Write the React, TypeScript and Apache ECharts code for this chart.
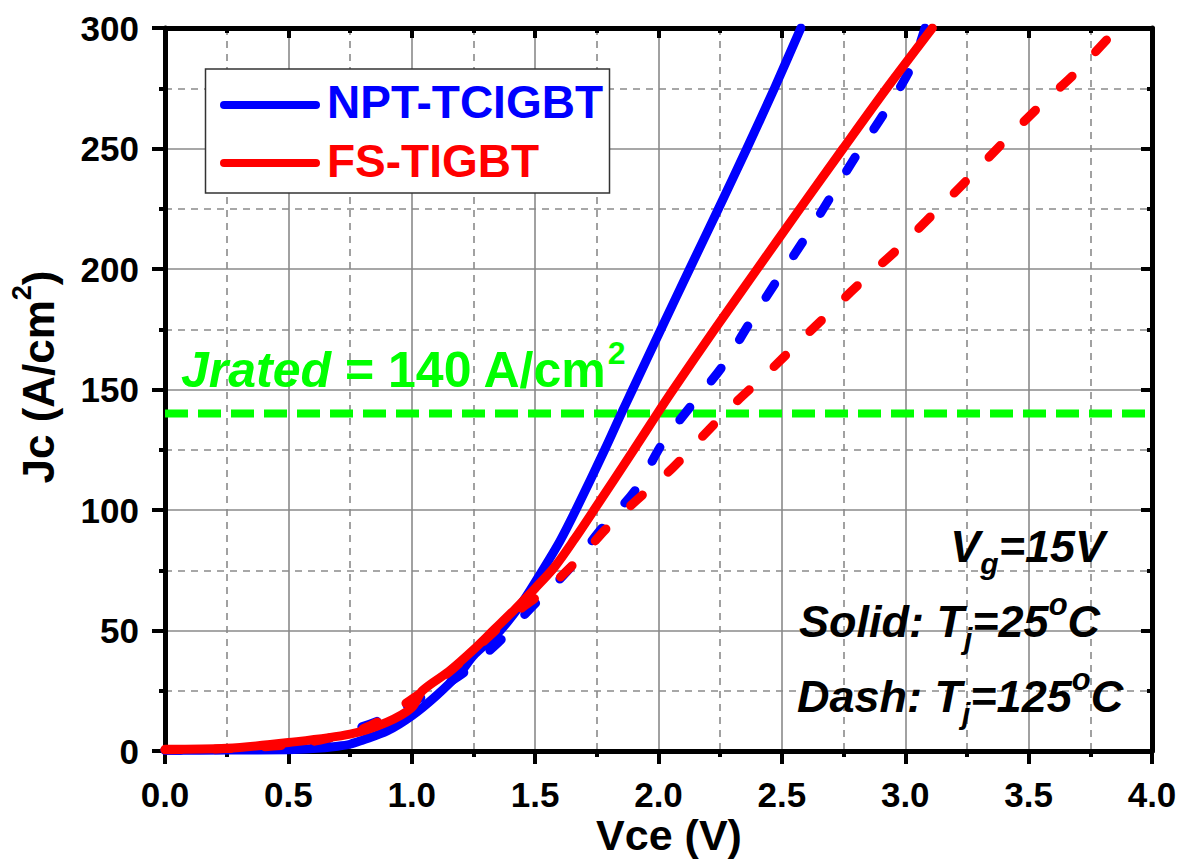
import React, { useEffect, useRef } from "react";
import * as echarts from "echarts";

// ---- data ----
const vceMin = 0;
const vceMax = 4;
const vceStep = 0.5;
const jcMin = 0;
const jcMax = 300;
const jcStep = 50;
const jRated = 140;

// NPT-TCIGBT, Tj = 25 °C (solid blue)
const npt25V = [0, 0.25, 0.5, 0.6, 0.7, 0.75, 0.8, 0.9, 1.0, 1.1, 1.2, 1.25, 1.35, 1.45, 1.53, 1.6, 1.665, 1.782, 1.849, 1.895, 2.01, 2.126, 2.243, 2.358, 2.47, 2.577];
const npt25J = [0.3, 0.4, 0.5, 1, 2, 2.8, 4.5, 8.3, 14.6, 23, 33, 39.6, 49, 62, 75, 87, 100, 125, 140, 150, 175, 200, 225, 250, 275, 300];

// FS-TIGBT, Tj = 25 °C (solid red)
const fs25V = [0, 0.25, 0.5, 0.75, 0.9, 1.0, 1.043, 1.15, 1.25, 1.33, 1.42, 1.5, 1.58, 1.66, 1.745, 1.9, 1.995, 2.06, 2.228, 2.4, 2.573, 2.748, 2.925, 3.11];
const fs25J = [0.7, 1.1, 3.5, 7, 12, 18, 25, 33, 42, 50, 59, 67.5, 76.5, 88, 101, 125, 140, 150, 175, 200, 225, 250, 275, 300];

// NPT-TCIGBT, Tj = 125 °C (dashed blue)
const npt125V = [0, 0.25, 0.5, 0.6, 0.69, 0.88, 1.0, 1.19, 1.34, 1.489, 1.638, 1.773, 1.908, 2.016, 2.13, 2.262, 2.37, 2.472, 2.589, 2.698, 2.807, 2.923, 3.025, 3.08];
const npt125J = [0.3, 0.6, 1.5, 3, 6.25, 13.2, 20, 31, 44, 60, 75.5, 92.7, 108.5, 127.7, 143, 160, 177.7, 194, 212, 230, 248, 266, 284, 300];

// FS-TIGBT, Tj = 125 °C (dashed red)
const fs125V = [0, 0.25, 0.5, 0.65, 0.83, 0.99, 1.138, 1.27, 1.408, 1.557, 1.69, 1.786, 1.915, 2.057, 2.178, 2.3125, 2.443, 2.581, 2.72, 2.836, 2.967, 3.11, 3.257, 3.4, 3.548, 3.693, 3.86];
const fs125J = [0.5, 1.0, 2.5, 5, 10.4, 20.8, 31.6, 43.5, 56.3, 68, 81, 92, 104.4, 117.4, 130.5, 144.6, 157, 170.8, 184.6, 196, 208, 222.5, 237.6, 252.8, 267.9, 281.7, 300];

const legendNames = ["NPT-TCIGBT", "FS-TIGBT"];

const pairs = (xs: number[], ys: number[]) => xs.map((x, i) => [x, ys[i]]);

const FONT = '"Liberation Sans", Arial, Helvetica, sans-serif';
const BLUE = "#0000ff";
const RED = "#ff0000";
const GREEN = "#00ff00";
const GRID_GREY = "#8a8a8a";
const LW = 9;

export default function App() {
  const ref = useRef<HTMLDivElement>(null);

  useEffect(() => {
    if (!ref.current) return;
    const chart = echarts.init(ref.current, null, { renderer: "svg" });

    const axisCommon = {
      type: "value" as const,
      axisLine: { show: true, onZero: false, lineStyle: { color: "#000", width: 5 } },
    };

    const boldItalic = { fontWeight: "bold", fontStyle: "italic", fontFamily: FONT };

    const option: any = {
      animation: false,
      backgroundColor: "#fff",
      textStyle: { fontFamily: FONT },
      grid: { left: 165, top: 28, right: 29, bottom: 112, containLabel: false },
      xAxis: [
        {
          ...axisCommon,
          position: "bottom",
          min: vceMin,
          max: vceMax,
          interval: vceStep,
          axisTick: { show: true, inside: false, length: 13, lineStyle: { color: "#000", width: 4 } },
          minorTick: { show: true, splitNumber: 2, length: 6, lineStyle: { color: "#000", width: 4 } },
          axisLabel: {
            show: true,
            margin: 26,
            fontSize: 35,
            fontWeight: "bold",
            color: "#000",
            fontFamily: FONT,
            formatter: (v: number) => v.toFixed(1),
          },
          splitLine: { show: true, lineStyle: { color: GRID_GREY, width: 1.6, type: "solid" } },
          minorSplitLine: { show: true, lineStyle: { color: GRID_GREY, width: 1.6, type: [7, 6] } },
        },
        {
          ...axisCommon,
          position: "top",
          min: vceMin,
          max: vceMax,
          interval: vceStep,
          axisTick: { show: true, inside: true, length: 10, lineStyle: { color: "#000", width: 4 } },
          minorTick: { show: true, splitNumber: 2, length: 5, lineStyle: { color: "#000", width: 4 } },
          axisLabel: { show: false },
          splitLine: { show: false },
        },
      ],
      yAxis: [
        {
          ...axisCommon,
          position: "left",
          min: jcMin,
          max: jcMax,
          interval: jcStep,
          axisTick: { show: true, inside: false, length: 13, lineStyle: { color: "#000", width: 4 } },
          minorTick: { show: true, splitNumber: 2, length: 6, lineStyle: { color: "#000", width: 4 } },
          axisLabel: {
            show: true,
            margin: 26,
            fontSize: 35,
            fontWeight: "bold",
            color: "#000",
            fontFamily: FONT,
          },
          splitLine: { show: true, lineStyle: { color: GRID_GREY, width: 1.6, type: "solid" } },
          minorSplitLine: { show: true, lineStyle: { color: GRID_GREY, width: 1.6, type: [7, 6] } },
        },
        {
          ...axisCommon,
          position: "right",
          min: jcMin,
          max: jcMax,
          interval: jcStep,
          axisTick: { show: true, inside: true, length: 11, lineStyle: { color: "#000", width: 4 } },
          minorTick: { show: true, splitNumber: 2, length: 5, lineStyle: { color: "#000", width: 4 } },
          axisLabel: { show: false },
          splitLine: { show: false },
        },
      ],
      series: [
        {
          name: "Jrated",
          type: "line",
          data: [
            [vceMin, jRated],
            [vceMax, jRated],
          ],
          symbol: "none",
          silent: true,
          lineStyle: { color: GREEN, width: 8, type: [23, 10], cap: "butt" },
          z: 2,
        },
        {
          name: legendNames[0] + " 25C",
          type: "line",
          data: pairs(npt25V, npt25J),
          symbol: "none",
          smooth: 0.3,
          lineStyle: { color: BLUE, width: LW, cap: "round", join: "round" },
          z: 3,
        },
        {
          name: legendNames[0] + " 125C",
          type: "line",
          data: pairs(npt125V, npt125J),
          symbol: "none",
          smooth: 0.3,
          lineStyle: { color: BLUE, width: LW, type: [16, 34], cap: "round", join: "round" },
          z: 4,
        },
        {
          name: legendNames[1] + " 25C",
          type: "line",
          data: pairs(fs25V, fs25J),
          symbol: "none",
          smooth: 0.3,
          lineStyle: { color: RED, width: LW, cap: "round", join: "round" },
          z: 5,
        },
        {
          name: legendNames[1] + " 125C",
          type: "line",
          data: pairs(fs125V, fs125J),
          symbol: "none",
          smooth: 0.3,
          lineStyle: { color: RED, width: LW, type: [16, 34], cap: "round", join: "round" },
          z: 6,
        },
      ],
      graphic: [
        // legend box
        {
          type: "rect",
          shape: { x: 205.5, y: 69, width: 404, height: 124 },
          style: { fill: "#fff", stroke: "#333", lineWidth: 1.5 },
          z: 100,
        },
        {
          type: "line",
          shape: { x1: 224, y1: 105, x2: 316, y2: 105 },
          style: { stroke: BLUE, lineWidth: 8, lineCap: "round" },
          z: 101,
        },
        {
          type: "line",
          shape: { x1: 224, y1: 163, x2: 316, y2: 163 },
          style: { stroke: RED, lineWidth: 8, lineCap: "round" },
          z: 101,
        },
        {
          type: "text",
          x: 327,
          y: 102,
          style: {
            text: legendNames[0],
            fill: BLUE,
            font: `bold 46px ${FONT}`,
            align: "left",
            verticalAlign: "middle",
          },
          z: 101,
        },
        {
          type: "text",
          x: 327,
          y: 161,
          style: {
            text: legendNames[1],
            fill: RED,
            font: `bold 46px ${FONT}`,
            align: "left",
            verticalAlign: "middle",
          },
          z: 101,
        },
        // Jrated annotation
        {
          type: "text",
          x: 181,
          y: 370,
          style: {
            text: "{i|Jrated}{n| = 140 A/cm}{s|2}",
            align: "left",
            verticalAlign: "middle",
            fill: GREEN,
            rich: {
              i: { fontSize: 50, fontWeight: "bold", fontStyle: "italic", fontFamily: FONT, fill: GREEN, color: GREEN, lineHeight: 66 },
              n: { fontSize: 50, fontWeight: "bold", fontFamily: FONT, fill: GREEN, color: GREEN, lineHeight: 66 },
              s: { fontSize: 32, fontWeight: "bold", fontFamily: FONT, fill: GREEN, color: GREEN, lineHeight: 42, verticalAlign: "top" },
            },
          },
          z: 50,
        },
        // condition annotations
        {
          type: "text",
          x: 1105,
          y: 546,
          style: {
            text: "{b|V}{sub|g}{b|=15V}",
            align: "right",
            verticalAlign: "middle",
            fill: "#000",
            rich: {
              b: { fontSize: 45, ...boldItalic, lineHeight: 64 },
              sub: { fontSize: 30, ...boldItalic, lineHeight: 30, verticalAlign: "bottom" },
            },
          },
          z: 50,
        },
        {
          type: "text",
          x: 799,
          y: 621,
          style: {
            text: "{b|Solid: T}{sub|j}{b|=25}{sup|o}{b|C}",
            align: "left",
            verticalAlign: "middle",
            fill: "#000",
            rich: {
              b: { fontSize: 45, ...boldItalic, lineHeight: 64 },
              sub: { fontSize: 30, ...boldItalic, lineHeight: 30, verticalAlign: "bottom" },
              sup: { fontSize: 31, ...boldItalic, lineHeight: 46, verticalAlign: "top" },
            },
          },
          z: 50,
        },
        {
          type: "text",
          x: 797,
          y: 696,
          style: {
            text: "{b|Dash: T}{sub|j}{b|=125}{sup|o}{b|C}",
            align: "left",
            verticalAlign: "middle",
            fill: "#000",
            rich: {
              b: { fontSize: 45, ...boldItalic, lineHeight: 64 },
              sub: { fontSize: 30, ...boldItalic, lineHeight: 30, verticalAlign: "bottom" },
              sup: { fontSize: 31, ...boldItalic, lineHeight: 46, verticalAlign: "top" },
            },
          },
          z: 50,
        },
        // axis titles
        {
          type: "text",
          x: 669,
          y: 835,
          style: {
            text: "Vce (V)",
            font: `bold 43px ${FONT}`,
            fill: "#000",
            align: "center",
            verticalAlign: "middle",
          },
        },
        {
          type: "text",
          x: 38,
          y: 377,
          rotation: Math.PI / 2,
          style: {
            text: "{b|Jc (A/cm}{s|2}{b|)}",
            align: "center",
            verticalAlign: "middle",
            fill: "#000",
            rich: {
              b: { fontSize: 44, fontWeight: "bold", fontFamily: FONT, lineHeight: 60 },
              s: { fontSize: 27, fontWeight: "bold", fontFamily: FONT, lineHeight: 38, verticalAlign: "top" },
            },
          },
        },
      ],
    };

    chart.setOption(option);
    return () => chart.dispose();
  }, []);

  return (
    <div
      ref={ref}
      style={{ position: "fixed", left: 0, top: 0, width: 1181, height: 863, background: "#fff" }}
    />
  );
}
